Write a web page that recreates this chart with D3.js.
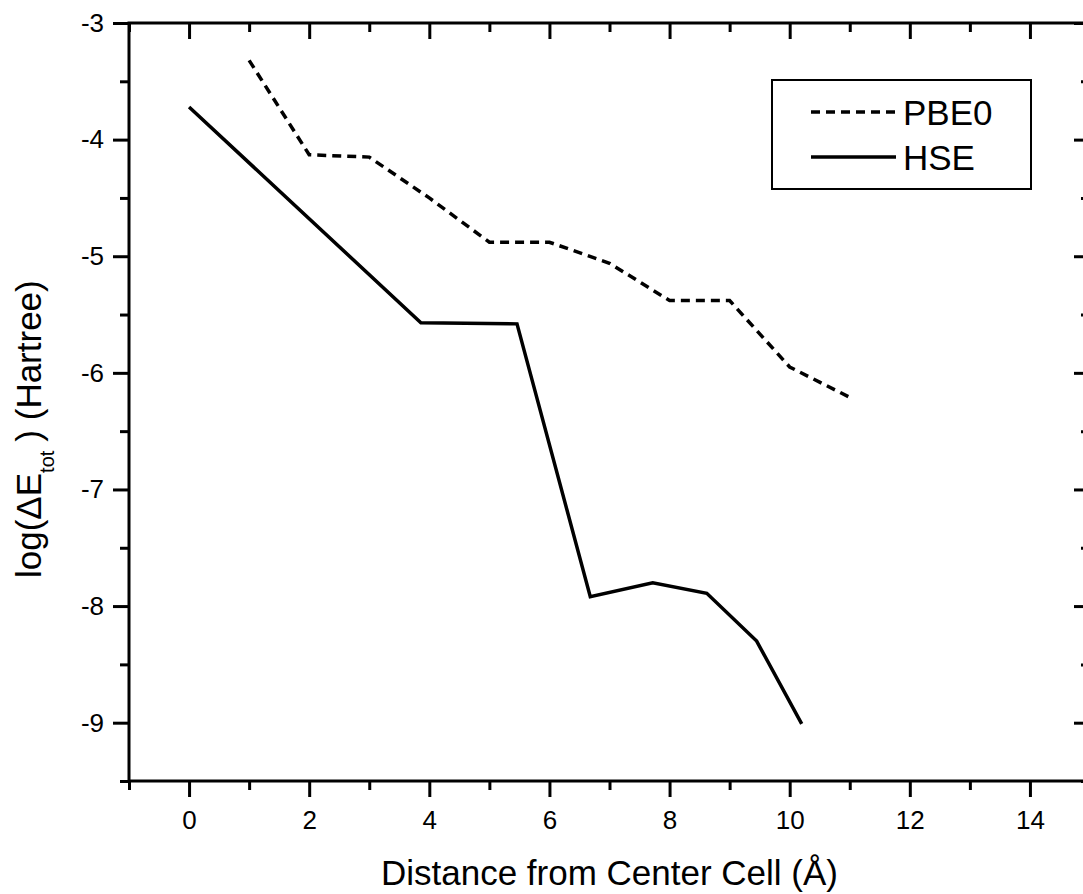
<!DOCTYPE html>
<html>
<head>
<meta charset="utf-8">
<script src="https://cdn.jsdelivr.net/npm/d3@7"></script>
<style>
  body { margin: 0; background: #fff; }
  svg { display: block; }
  text { font-family: "Liberation Sans", Arial, sans-serif; fill: #000; }
</style>
</head>
<body>
<svg width="1083" height="894"></svg>
<script>
// data
const seriesNames = ["PBE0", "HSE"];
const pbe0X = [1, 2, 3, 4, 5, 6, 7, 8, 9, 10, 11];
const pbe0Y = [-3.32, -4.13, -4.15, -4.5, -4.88, -4.88, -5.06, -5.38, -5.38, -5.95, -6.21];
const hseX = [0, 3.86, 5.46, 6.68, 7.72, 8.62, 9.45, 10.2];
const hseY = [-3.72, -5.57, -5.58, -7.92, -7.8, -7.89, -8.3, -9.01];
const xMajorTicks = [0, 2, 4, 6, 8, 10, 12, 14];
const xMinorTicks = [-1, 1, 3, 5, 7, 9, 11, 13, 15];
const yMajorTicks = [-3, -4, -5, -6, -7, -8, -9];
const yMinorTicks = [-3.5, -4.5, -5.5, -6.5, -7.5, -8.5, -9.5];

const svg = d3.select("svg");

const plotLeft = 129, plotRight = 1090, plotTop = 23, plotBottom = 781;

const x = d3.scaleLinear().domain([-1, 15]).range([plotLeft, plotRight]);
const y = d3.scaleLinear().domain([-9.5, -3]).range([plotBottom, plotTop]);

const axisStroke = 3;
const plainNum = d => String(d);   // plain hyphen, not unicode minus

function styleAxis(g) {
    g.select(".domain").remove();
    g.selectAll(".tick line").attr("stroke", "#000").attr("stroke-width", axisStroke);
    g.selectAll(".tick text").style("font-size", "26px").attr("fill", "#000");
}

// bottom axis (outward ticks)
svg.append("g").attr("transform", `translate(0,${plotBottom})`)
    .call(d3.axisBottom(x).tickValues(xMajorTicks).tickSize(16).tickPadding(14).tickFormat(plainNum))
    .call(styleAxis);
svg.append("g").attr("transform", `translate(0,${plotBottom})`)
    .call(d3.axisBottom(x).tickValues(xMinorTicks).tickSize(9).tickFormat(""))
    .call(styleAxis);

// top axis (inward ticks)
svg.append("g").attr("transform", `translate(0,${plotTop})`)
    .call(d3.axisBottom(x).tickValues(xMajorTicks).tickSize(16).tickFormat(""))
    .call(styleAxis);
svg.append("g").attr("transform", `translate(0,${plotTop})`)
    .call(d3.axisBottom(x).tickValues(xMinorTicks).tickSize(9).tickFormat(""))
    .call(styleAxis);

// left axis (outward ticks)
svg.append("g").attr("transform", `translate(${plotLeft},0)`)
    .call(d3.axisLeft(y).tickValues(yMajorTicks).tickSize(16).tickPadding(9).tickFormat(plainNum))
    .call(styleAxis);
svg.append("g").attr("transform", `translate(${plotLeft},0)`)
    .call(d3.axisLeft(y).tickValues(yMinorTicks).tickSize(9).tickFormat(""))
    .call(styleAxis);

// right axis (inward ticks)
svg.append("g").attr("transform", `translate(${plotRight},0)`)
    .call(d3.axisLeft(y).tickValues(yMajorTicks).tickSize(16).tickFormat(""))
    .call(styleAxis);
svg.append("g").attr("transform", `translate(${plotRight},0)`)
    .call(d3.axisLeft(y).tickValues(yMinorTicks).tickSize(9).tickFormat(""))
    .call(styleAxis);

// frame
svg.append("rect")
    .attr("x", plotLeft).attr("y", plotTop)
    .attr("width", plotRight - plotLeft).attr("height", plotBottom - plotTop)
    .attr("fill", "none").attr("stroke", "#000").attr("stroke-width", axisStroke);

// lines
const line = d3.line().x(d => x(d[0])).y(d => y(d[1]));

svg.append("path")
    .datum(d3.zip(pbe0X, pbe0Y))
    .attr("fill", "none").attr("stroke", "#000").attr("stroke-width", 3.5)
    .attr("stroke-dasharray", "9,6")
    .attr("d", line);

svg.append("path")
    .datum(d3.zip(hseX, hseY))
    .attr("fill", "none").attr("stroke", "#000").attr("stroke-width", 3.5)
    .attr("d", line);

// axis titles
svg.append("text")
    .attr("x", (plotLeft + plotRight) / 2).attr("y", 885)
    .attr("text-anchor", "middle")
    .style("font-size", "35px")
    .text("Distance from Center Cell (Å)");

const yTitle = svg.append("text")
    .attr("transform", "translate(41,578) rotate(-90)")
    .style("font-size", "35px");
yTitle.append("tspan").text("log(ΔE");
yTitle.append("tspan").attr("dy", 13).style("font-size", "20px").text("tot");
yTitle.append("tspan").attr("dy", -13).attr("dx", 9).text(") (Hartree)");

// legend
const legend = svg.append("g");
legend.append("rect")
    .attr("x", 772).attr("y", 80).attr("width", 259).attr("height", 109)
    .attr("fill", "#fff").attr("stroke", "#000").attr("stroke-width", 2);

seriesNames.forEach((name, i) => {
    const ly = 112 + i * 45;
    legend.append("line")
        .attr("x1", 811).attr("x2", 896).attr("y1", ly).attr("y2", ly)
        .attr("stroke", "#000").attr("stroke-width", 3.5)
        .attr("stroke-dasharray", i === 0 ? "9,6" : null);
    legend.append("text")
        .attr("x", 903).attr("y", ly + 12.5)
        .style("font-size", "35px")
        .text(name);
});
</script>
</body>
</html>
